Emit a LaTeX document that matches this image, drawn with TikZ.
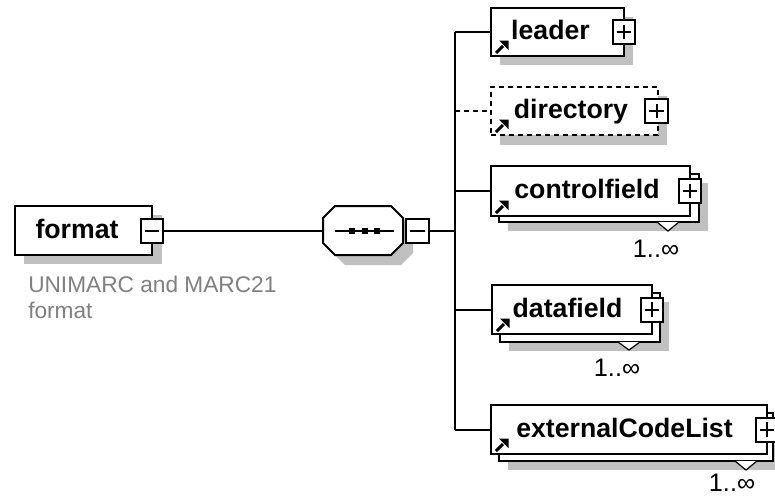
\documentclass[tikz,border=0pt]{standalone}
\usepackage{fontspec}
\setmainfont{Liberation Sans}
\usetikzlibrary{calc}
\definecolor{shadowc}{RGB}{192,192,192}
\definecolor{textg}{RGB}{128,128,128}
\pgfdeclarelayer{shadowl}
\pgfdeclarelayer{backl}
\pgfsetlayers{shadowl,backl,main}
\begin{document}
\begin{tikzpicture}[x=0.75pt,y=-0.75pt,
  elem/.style={draw, fill=white, line width=1.5pt, inner sep=0pt, outer sep=0pt, anchor=north west},
  optelem/.style={elem, dash pattern=on 3.75pt off 3pt},
  backbox/.style={draw, fill=white, line width=1.5pt},
  shade/.style={fill=shadowc},
  notch/.style={draw, fill=white, line width=0.9pt},
  lbl/.style={font=\bfseries\fontsize{20}{24}\selectfont, anchor=base, inner sep=0pt},
  mult/.style={font=\fontsize{19}{22}\selectfont, anchor=base, inner sep=0pt},
  note/.style={font=\fontsize{17}{20}\selectfont, text=textg, anchor=base west, inner sep=0pt},
  pm/.style={draw, fill=white, line width=1.5pt, minimum width=17pt, minimum height=18pt, inner sep=0pt, outer sep=0pt},
  plusbox/.style={pm, path picture={
      \draw[line width=1.5pt] ([xshift=-5.5pt]path picture bounding box.center) -- ([xshift=5.5pt]path picture bounding box.center);
      \draw[line width=1.5pt] ([yshift=-5.5pt]path picture bounding box.center) -- ([yshift=5.5pt]path picture bounding box.center);}},
  minusbox/.style={pm, path picture={
      \draw[line width=1.5pt] ([xshift=-5.5pt]path picture bounding box.center) -- ([xshift=5.5pt]path picture bounding box.center);}},
  conn/.style={line width=1.5pt},
  refarrow/.pic={\draw[line width=2.2pt] (5,-3) -- (12,-10); \fill (17.5,-15.5) -- (8,-15.5) -- (17.5,-6) -- cycle;}
]
\useasboundingbox (0,0) rectangle (775,497);
\clip (0,0) rectangle (775,497);

% ---------- format ----------
\node[elem, minimum width=137*0.75pt, minimum height=49*0.75pt] (format) at (15,206) {};
\begin{pgfonlayer}{shadowl}
  \fill[shade] (24,215) rectangle (162,264);
\end{pgfonlayer}
\node[lbl] (formatlbl) at (77,238) {format};
\node[minusbox] (fmin) at (format.east) {};
\node[note] (note1) at (28,292) {UNIMARC and MARC21};
\node[note] (note2) at (28,318) {format};

% ---------- sequence ----------
\node[minimum width=80*0.75pt, minimum height=49*0.75pt, inner sep=0pt, outer sep=0pt] (seq) at (363,230.5) {};
\begin{pgfonlayer}{shadowl}
  \fill[shade] (345,216) -- (401,216) -- (413,228) -- (413,253) -- (401,265) -- (345,265) -- (333,253) -- (333,228) -- cycle;
\end{pgfonlayer}
\draw[line width=1.5pt, fill=white] (335,206) -- (391,206) -- (403,218) -- (403,243) -- (391,255) -- (335,255) -- (323,243) -- (323,218) -- cycle;
\draw[line width=1.5pt] (335,230.5) -- (394,230.5);
\fill (349,227.5) rectangle (355,233.5);
\fill (362,227.5) rectangle (368,233.5);
\fill (374,227.5) rectangle (380,233.5);
\node[minusbox] (smin) at (417.5,230.5) {};

\draw[conn] (fmin.east) -- (seq.west);

% ---------- children ----------
\node[elem, minimum width=133*0.75pt, minimum height=48*0.75pt] (leader) at (491,8) {};
\node[optelem, minimum width=167*0.75pt, minimum height=48*0.75pt] (directory) at (491,87) {};
\node[elem, minimum width=199*0.75pt, minimum height=50*0.75pt] (controlfield) at (491,166) {};
\node[elem, minimum width=160*0.75pt, minimum height=49*0.75pt] (datafield) at (492,285) {};
\node[elem, minimum width=276*0.75pt, minimum height=49*0.75pt] (ext) at (491,405) {};

\begin{pgfonlayer}{shadowl}
  \fill[shade] (500,17) rectangle (633,65);
  \fill[shade] (500,96) rectangle (667,145);
  \fill[shade] (508,183) rectangle (708,231);
  \fill[shade] (509,302) rectangle (669,351);
  \fill[shade] (508,422) rectangle (784,470);
\end{pgfonlayer}
\begin{pgfonlayer}{backl}
  \draw[backbox] (499,174) rectangle (699,222);
  \draw[notch] (657,222) -- (668,231) -- (679,222);
  \draw[backbox] (500,293) rectangle (660,342);
  \draw[notch] (618,342) -- (629,350) -- (640,342);
  \draw[backbox] (499,413) rectangle (773,461);
  \draw[notch] (735,461) -- (746,470) -- (757,461);
\end{pgfonlayer}

\pic at (leader.south west) {refarrow};
\pic at (directory.south west) {refarrow};
\pic at (controlfield.south west) {refarrow};
\pic at (datafield.south west) {refarrow};
\pic at (ext.south west) {refarrow};

\node[lbl] (leaderlbl) at (550.5,39) {leader};
\node[lbl] (directorylbl) at (571,118) {directory};
\node[lbl] (controlfieldlbl) at (587,198) {controlfield};
\node[lbl] (datafieldlbl) at (567.5,317) {datafield};
\node[lbl] (extlbl) at (624.5,437) {externalCodeList};

\node[plusbox] (leaderplus) at (leader.east) {};
\node[plusbox] (directoryplus) at ([xshift=-1pt]directory.east) {};
\node[plusbox] (controlfieldplus) at (controlfield.east) {};
\node[plusbox] (datafieldplus) at (datafield.east) {};
\node[plusbox] (extplus) at (ext.east) {};

\node[mult] (m1) at (656,257) {1..∞};
\node[mult] (m2) at (617,376) {1..∞};
\node[mult] (m3) at (732,491) {1..∞};

% ---------- connectors ----------
\coordinate (bustop) at (455,32);
\coordinate (busbot) at (ext.west -| bustop);
\draw[conn] (smin.east) -- (smin.east -| bustop);
\draw[conn] (leader.west -| bustop) -- (busbot);
\draw[conn] (leader.west -| bustop) -- (leader.west);
\draw[conn, dash pattern=on 3.75pt off 3pt] (directory.west -| bustop) -- (directory.west);
\draw[conn] (controlfield.west -| bustop) -- (controlfield.west);
\draw[conn] (datafield.west -| bustop) -- (datafield.west);
\draw[conn] (ext.west -| bustop) -- (ext.west);
\end{tikzpicture}
\end{document}
